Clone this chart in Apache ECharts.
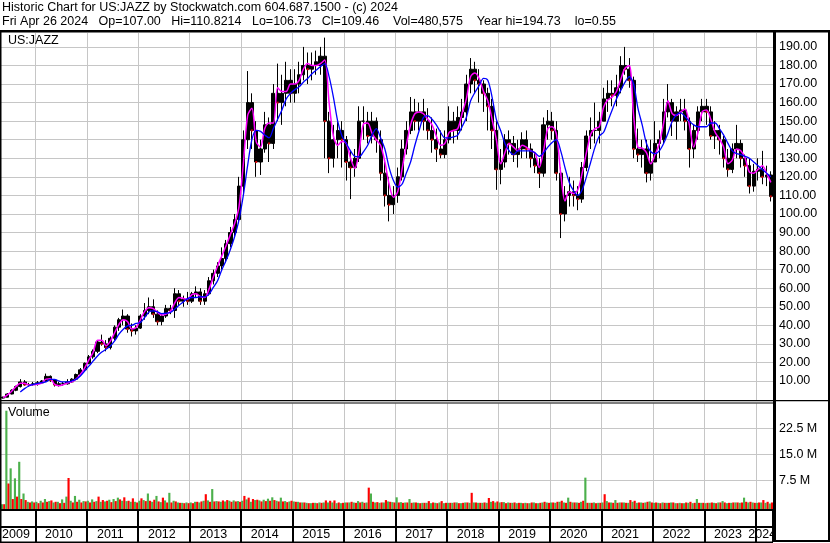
<!DOCTYPE html>
<html>
<head>
<meta charset="utf-8">
<script src="https://cdn.jsdelivr.net/npm/echarts@6.0.0/dist/echarts.min.js"></script>
<style>
html,body{margin:0;padding:0;background:#ffffff;}
#chart{width:830px;height:543px;}
</style>
</head>
<body>
<div id="chart"></div>
<script>
// ---------------- DATA (monthly, May 2009 - Apr 2024) ----------------
const months = [];
for (let y = 2009; y <= 2024; y++) {
  for (let m = 1; m <= 12; m++) {
    if (y === 2009 && m < 5) continue;
    if (y === 2024 && m > 4) break;
    months.push(y + '-' + String(m).padStart(2, '0'));
  }
}

const priceOpen = [
  0.8,1.3,3.0,5.0,7.0,9.5,8.0,8.0,
  8.5,9,10,12.5,10.5,8,8.5,8.5,9.5,11,13.5,16,
  19.5,23,26,31,30,28,33,39,43,45,38,37,
  38.5,45,48,50,46,42,45,49,48,57,53,54,
  53,57,58,53,57,64,68,72,76,84,90,97,
  115,140,160,145,128,135,148,138,165,160,165,172,
  165,170,175,180,178,180,180,185,150,130,140,145,
  140,128,125,130,150,150,142,150,140,122,110,105,
  110,120,135,145,155,150,155,150,145,140,135,132,
  140,150,145,152,155,170,178,172,170,165,158,145,
  124,128,140,138,132,135,140,135,130,126,122,148,
  150,145,122,100,110,112,110,108,125,142,145,145,
  150,162,165,164,168,180,178,172,135,132,135,122,
  128,138,140,155,160,150,155,156,150,135,145,155,
  158,155,142,145,140,130,124,135,138,130,126,115,
  123,124,120,121
];
const priceHigh = [
  1.5,3.5,5.5,7.5,11.0,10.5,9.0,9.5,
  10,10.5,14,13,11,9.5,9.5,11,11.5,14,17,20,
  24,27,32,35,32,34,40,44,48.5,46,41,40,
  46,52,55,54,48,46,51,51,60,59,56,58,
  58,61,60,59,66,70,74,82,86,93,100,120,
  145,177,165,150,140,155,152,170,181,175,182,178,
  178,182,190,187,187,188,190,195,155,148,150,150,
  142,134,135,158,158,155,155,152,145,128,120,115,
  125,140,150,163,162,160,162,157,152,146,145,145,
  158,155,158,162,175,184,182,178,172,168,162,150,
  135,143,145,142,140,144,145,138,133,130,152,156,
  155,150,125,115,120,118,115,128,145,152,160,155,
  168,172,172,175,185,190,184,174,146,140,140,140,
  150,145,162,170,162,158,162,162,152,148,158,162,
  162,158,150,148,142,135,138,148,140,132,130,127,
  130,134,126,123
];
const priceLow = [
  0.6,1.2,2.8,4.5,6.5,7.5,7.0,7.5,
  7.5,8.5,9.5,9.5,7,7,7.5,8,9,10.5,13,15.5,
  19,22,25,29,26,27,32,37,40,36,34,35,
  38,43,46,44,40,40,44,46,44,51,50,51,
  52,55,51,51,56,62,66,70,74,82,88,95,
  110,135,135,120,121,133,128,135,150,148,158,160,
  160,165,172,170,172,175,175,130,122,125,130,125,
  118,108,120,128,140,138,138,133,118,104,96,100,
  106,118,132,143,145,145,145,140,133,128,130,130,
  138,138,140,145,150,165,165,160,155,145,135,113,
  116,125,132,128,125,130,130,125,122,114,120,140,
  140,118,87,96,104,104,102,106,123,135,138,138,
  150,155,158,158,165,175,168,130,128,125,117,118,
  128,130,138,152,142,140,150,145,125,130,140,150,
  148,140,135,132,125,120,122,130,125,120,111,112,
  118,116,115,106.73
];
const priceClose = [
  1.3,3.0,5.0,7.0,9.5,8.0,8.0,8.5,
  9,10,12.5,10.5,8,8.5,8.5,9.5,11,13.5,16,19.5,
  23,26,31,30,28,33,39,43,45,38,37,38.5,
  45,48,50,46,42,45,49,48,57,53,54,53,
  57,58,53,57,64,68,72,76,84,90,97,115,
  140,160,145,128,135,148,138,165,160,165,172,165,
  170,175,180,178,180,182,185,150,130,140,145,140,
  128,125,130,150,150,142,150,140,122,110,105,110,
  120,135,145,155,150,155,150,145,140,135,132,140,
  150,145,152,155,170,178,172,170,165,158,145,124,
  128,140,138,132,135,140,135,130,126,122,148,150,
  145,122,100,110,112,110,108,125,142,145,145,150,
  162,165,164,168,180,178,172,135,132,135,122,128,
  138,140,155,160,150,155,156,150,135,145,155,158,
  155,142,145,140,130,124,135,138,130,126,115,123,
  124,120,121,109.46
];
// short moving average (magenta)
const maShort = [
  1.0,2.5,4.5,7.0,8.8,8.8,7.8,8.0,
  8.3,8.8,11,11.2,8.2,7.5,8.0,8.9,9.5,11,13.5,17,
  21.5,25.5,32,32,29,31.5,36,40.5,43,42,38,38.8,
  43,47.5,49.5,49,47,45.5,46,47.5,52,55,54.5,54,
  56.5,57,55.5,55,59.5,66,72,77.5,83,89,95,104,
  127,153,157,139,136,146,149,149,168,166,166,170,
  170,172,178,181,180,180,181,183,160,142,137,139,
  138,130,124.5,134,148.5,149,143.5,140,137,128,116,109,
  112,124,137,148,154,155,154,151,148,142,137,138,
  144,145,146,154,162,174,176,173,166,161,151,140,
  127,133,138,136,134,137,136,134,133,125,134,146,
  147,143,122,107,112,111,113,122,133,143,146,147,
  157.5,161.5,163,166,172.5,178.5,180,153,136,135.5,133,127,
  132,138,149,161,154,153,155,156.5,148,136,144,155,
  156,151,144,140.5,136,127,129,135,134,130,122.5,122,
  124,126,122,117
];
// long moving average (blue)
const maLong = [
  null,null,null,null,4.1,5.9,7.3,8.2,
  8.7,9.1,9.5,10.9,10.9,10,9.5,9.5,10,10.9,12.7,15.4,
  18,20.8,23.5,25.6,27.1,28.9,31.6,35.2,37.9,39.7,40,41,
  41.5,44.2,47.2,47.8,47.2,46.3,46.5,46.9,48.7,50.8,52.6,54.4,
  55,55,55.5,55.3,56.8,60.4,64,70,75,81,88,97,
  110,126,140,145,144.5,142.5,141,146,151,156,162,165,
  167,168.5,171,173,175.5,177.5,179.5,181,174,163,150,142,
  138,134,131,130.8,133.5,137,142.5,146,141,135,125,118,
  114.5,116,122,128,137,145,152,153,151,148,144,141,
  141,141.5,142.5,147,152,161,165.5,169.3,173,172,163,151,
  145,138,134,132,134,134,134,134,133,131,133,136,
  138.5,140,134,125,117,112.5,110,113,120,128,136,142,
  144,150,156,162,166.6,171,174,170,157,148,138,133.5,
  132.5,134,138,143.5,150,153.5,154.5,152.5,150,148,147,147,
  147,149,149,146,142.5,138,134,132.5,132,131,130,128,
  126,124,122,120
];
// volume (millions): largest up-day and down-day volume per month
const volUp = [
  0.5,27.6,10.9,8,12.8,3.6,1.2,1.3,
  1.2,1.5,2.0,1.4,1.0,1.2,1.9,2.7,1.5,2.9,1.8,1.4,
  1.5,1.9,1.4,1.2,1.3,1.8,2.0,2.4,1.5,1.4,1.2,1.2,
  1.5,1.7,3.6,1.2,2.9,1.1,1.6,3.8,1.5,1.0,0.9,1.0,
  1.0,1.2,1.0,1.5,1.6,4.9,1.4,1.2,1.3,1.5,1.6,1.4,
  1.5,1.9,1.2,1.7,1.6,1.8,2.1,2.5,1.5,2.4,1.4,1.3,
  1.3,1.2,1.0,0.9,0.8,0.9,1.0,1.0,1.0,1.0,0.8,0.8,
  1.0,1.0,1.0,1.4,1.2,1.0,3.6,1.0,0.9,1.0,1.3,1.1,
  2.5,1.1,1.0,2.0,1.0,0.9,0.9,0.9,0.8,0.9,1.0,0.8,
  0.9,0.9,1.0,0.8,1.0,0.9,1.0,0.9,0.9,0.9,1.2,1.0,
  1.0,1.1,1.0,0.9,0.8,0.9,0.9,0.8,1.0,0.8,1.0,1.0,
  1.0,0.9,1.2,1.0,2.4,1.0,1.0,1.2,8.2,0.9,1.0,0.9,
  1.0,1.4,1.0,1.7,1.0,1.0,0.9,1.2,0.9,1.0,1.0,1.3,
  0.9,0.9,1.0,0.9,1.0,0.8,0.9,0.8,0.9,0.8,2.0,0.9,
  0.8,0.9,0.9,1.0,1.4,0.8,0.9,1.0,0.9,2.4,1.0,1.0,
  0.9,1.0,0.9,0.7
];
const volDown = [
  0.5,6.5,2.0,2.7,2.0,1.7,1.0,1.0,
  0.8,1.0,1.2,1.6,1.2,0.8,0.9,8.1,1.0,1.2,1.0,1.3,
  1.0,1.2,2.7,1.7,1.5,1.1,1.4,1.9,2.5,1.5,2.2,1.0,
  2.2,1.4,1.5,1.8,1.3,2.4,1.0,1.0,1.3,0.9,0.8,0.8,
  0.8,1.2,1.3,3.4,1.2,1.3,1.3,1.6,1.7,1.2,1.3,1.2,
  2.9,2.4,2.0,1.8,1.3,1.4,1.5,1.7,1.3,1.3,1.1,1.5,
  1.2,1.0,1.0,0.8,0.9,0.8,0.9,1.6,1.5,1.6,1.0,0.9,
  1.0,1.2,0.9,1.0,0.9,5.3,1.2,1.1,1.0,1.7,1.2,1.0,
  1.0,0.9,1.0,0.9,1.0,0.8,0.9,1.4,1.0,0.8,1.4,0.9,
  0.9,1.0,0.8,0.9,1.0,3.8,1.0,0.9,1.0,2.3,1.4,1.3,
  1.1,0.8,0.9,1.0,0.9,0.8,0.8,1.0,0.8,0.9,1.2,0.9,
  1.0,1.2,1.5,0.9,1.2,1.0,0.9,1.5,0.9,0.9,0.8,0.9,
  3.4,1.0,0.9,0.9,1.0,0.9,1.7,1.5,1.0,0.9,1.2,1.0,
  1.0,0.8,0.9,0.9,1.0,0.8,0.8,1.0,1.2,0.9,0.9,0.9,
  0.9,1.0,0.8,1.0,1.0,0.9,1.0,1.0,1.0,1.2,1.2,0.9,
  1.0,1.7,1.2,1.0
];
// tick labels
const priceTicks = [10,20,30,40,50,60,70,80,90,100,110,120,130,140,150,160,170,180,190];
const volumeTicks = [7.5, 15, 22.5];
const yearLabels = ['2009','2010','2011','2012','2013','2014','2015','2016','2017','2018','2019','2020','2021','2022','2023','2024'];
const yearLabelMonth = ['2009-08','2010-06','2011-06','2012-06','2013-06','2014-06','2015-06','2016-06','2017-06','2018-06','2019-06','2020-06','2021-06','2022-06','2023-06','2024-02'];

const headerLine1 = 'Historic Chart for US:JAZZ by Stockwatch.com 604.687.1500 - (c) 2024';
const headerLine2 = 'Fri Apr 26 2024   Op=107.00   Hi=110.8214   Lo=106.73   Cl=109.46    Vol=480,575    Year hi=194.73    lo=0.55';

// ---------------- CHART ----------------
const FONT = 'Arial, "Liberation Sans", sans-serif';
const FS = 12.5;
const VOL_MIN = -0.89, VOL_MAX = 29.7;
const GRID_GRAY = '#c6c6c6';
const isJan = (i, v) => String(v).slice(5) === '01';

const candleData = months.map((m, i) => [priceOpen[i], priceClose[i], priceLow[i], priceHigh[i]]);
// red ticks at the close of months that closed lower
const downCloses = months.map((m, i) => priceClose[i] < priceOpen[i] ? priceClose[i] : null);
const volData = months.map((m, i) => [i, volUp[i], volDown[i]]);

function renderVolume(params, api) {
  const i = api.value(0);
  const base = api.coord([i, VOL_MIN]);
  const bw = api.size([1, 0])[0];
  const pUp = api.coord([i, api.value(1)]);
  const pDn = api.coord([i, api.value(2)]);
  const left = base[0] - bw / 2;
  const w = bw / 2;
  return {
    type: 'group',
    children: [
      { type: 'rect', shape: { x: left, y: pUp[1], width: w, height: base[1] - pUp[1] }, style: { fill: '#4cb04c' } },
      { type: 'rect', shape: { x: left + w, y: pDn[1], width: w, height: base[1] - pDn[1] }, style: { fill: '#ff0000' } }
    ]
  };
}

const baseX = (gi) => ({
  type: 'category', gridIndex: gi, data: months, boundaryGap: true,
  axisLine: { show: false }, axisTick: { show: false }, axisLabel: { show: false }
});

const frame = (x, y, w, h) => ({ type: 'rect', shape: { x: x, y: y, width: w, height: h }, style: { fill: '#000' }, z: 100, silent: true });
const txt = (s, l, t) => ({ text: s, left: l, top: t, padding: 0, textStyle: { fontFamily: FONT, fontSize: FS, fontWeight: 'normal', color: '#000' } });

const option = {
  animation: false,
  backgroundColor: '#ffffff',
  textStyle: { fontFamily: FONT },
  title: [
    txt(headerLine1, 2, 1.5),
    txt(headerLine2, 2, 15.5),
    txt('US:JAZZ', 8, 34.5),
    txt('Volume', 8, 406)
  ],
  grid: [
    { left: 1, top: 33, width: 772, height: 367, outerBoundsMode: 'none' },
    { left: 1, top: 403.5, width: 772, height: 105.5, outerBoundsMode: 'none' },
    { left: 1, top: 511, width: 772, height: 15, outerBoundsMode: 'none' },
    { left: 1, top: 528, width: 772, height: 14, outerBoundsMode: 'none' }
  ],
  xAxis: [
    Object.assign(baseX(0), { splitLine: { show: true, interval: isJan, lineStyle: { color: GRID_GRAY, width: 1 } } }),
    Object.assign(baseX(1), { splitLine: { show: true, interval: isJan, lineStyle: { color: GRID_GRAY, width: 1 } } }),
    Object.assign(baseX(2), { splitLine: { show: true, interval: isJan, lineStyle: { color: '#000', width: 2 } } }),
    Object.assign(baseX(3), {
      position: 'top',
      splitLine: { show: true, interval: isJan, lineStyle: { color: '#000', width: 2 } },
      axisLabel: {
        show: true, inside: true, margin: 0.5,
        interval: (i, v) => yearLabelMonth.indexOf(v) >= 0,
        formatter: (v) => yearLabels[yearLabelMonth.indexOf(v)],
        hideOverlap: false,
        fontFamily: FONT, fontSize: FS, color: '#000'
      }
    })
  ],
  yAxis: [
    {
      type: 'value', gridIndex: 0, position: 'right', min: -0.24, max: 197.5,
      axisLine: { show: false },
      axisTick: { show: false, customValues: priceTicks },
      axisLabel: { customValues: priceTicks, formatter: (v) => v.toFixed(2), margin: 6, fontFamily: FONT, fontSize: FS, color: '#000' },
      splitLine: { show: true, lineStyle: { color: GRID_GRAY, width: 1 } }
    },
    {
      type: 'value', gridIndex: 1, position: 'right', min: VOL_MIN, max: VOL_MAX,
      axisLine: { show: false },
      axisTick: { show: false, customValues: volumeTicks },
      axisLabel: { customValues: volumeTicks, formatter: (v) => v.toFixed(1) + ' M', margin: 6, fontFamily: FONT, fontSize: FS, color: '#000' },
      splitLine: { show: true, lineStyle: { color: GRID_GRAY, width: 1 } }
    },
    { type: 'value', gridIndex: 2, show: false, splitLine: { show: false } },
    { type: 'value', gridIndex: 3, show: false, splitLine: { show: false } }
  ],
  series: [
    {
      name: 'JAZZ', type: 'candlestick', xAxisIndex: 0, yAxisIndex: 0,
      data: candleData, barWidth: 3.6, z: 2,
      itemStyle: { color: '#000', color0: '#000', borderColor: '#000', borderColor0: '#000', borderWidth: 1 }
    },
    {
      name: 'Down close', type: 'scatter', xAxisIndex: 0, yAxisIndex: 0, data: downCloses,
      symbol: 'rect', symbolSize: [2, 2], z: 2.5,
      itemStyle: { color: '#ff0000' }
    },
    {
      name: 'MA short', type: 'line', xAxisIndex: 0, yAxisIndex: 0, data: maShort,
      showSymbol: false, smooth: 0.3, z: 3,
      lineStyle: { color: '#ff00ff', width: 1.5 }
    },
    {
      name: 'MA long', type: 'line', xAxisIndex: 0, yAxisIndex: 0, data: maLong,
      showSymbol: false, smooth: 0.3, connectNulls: false, z: 4,
      lineStyle: { color: '#0000ff', width: 1.3 }
    },
    {
      name: 'Volume', type: 'custom', xAxisIndex: 1, yAxisIndex: 1,
      data: volData, encode: { x: 0, y: [1, 2] }, renderItem: renderVolume, z: 2
    }
  ],
  graphic: [
    frame(0, 30, 830, 2.5),      // header rule
    frame(0, 31, 1.5, 512),      // left edge
    frame(773, 31, 3, 511),      // price axis line
    frame(828, 31, 2, 511),      // right edge
    frame(773, 540, 57, 2),      // bottom of axis column
    frame(0, 400, 830, 1.2),     // price / volume separator
    frame(0, 402.5, 773, 1),
    frame(0, 509, 773, 2),       // volume bottom
    frame(0, 526, 773, 2),       // band separator
    frame(0, 541.5, 773, 1.5)    // bottom
  ]
};

const chart = echarts.init(document.getElementById('chart'), null, { renderer: 'canvas' });
chart.setOption(option);
</script>
</body>
</html>
